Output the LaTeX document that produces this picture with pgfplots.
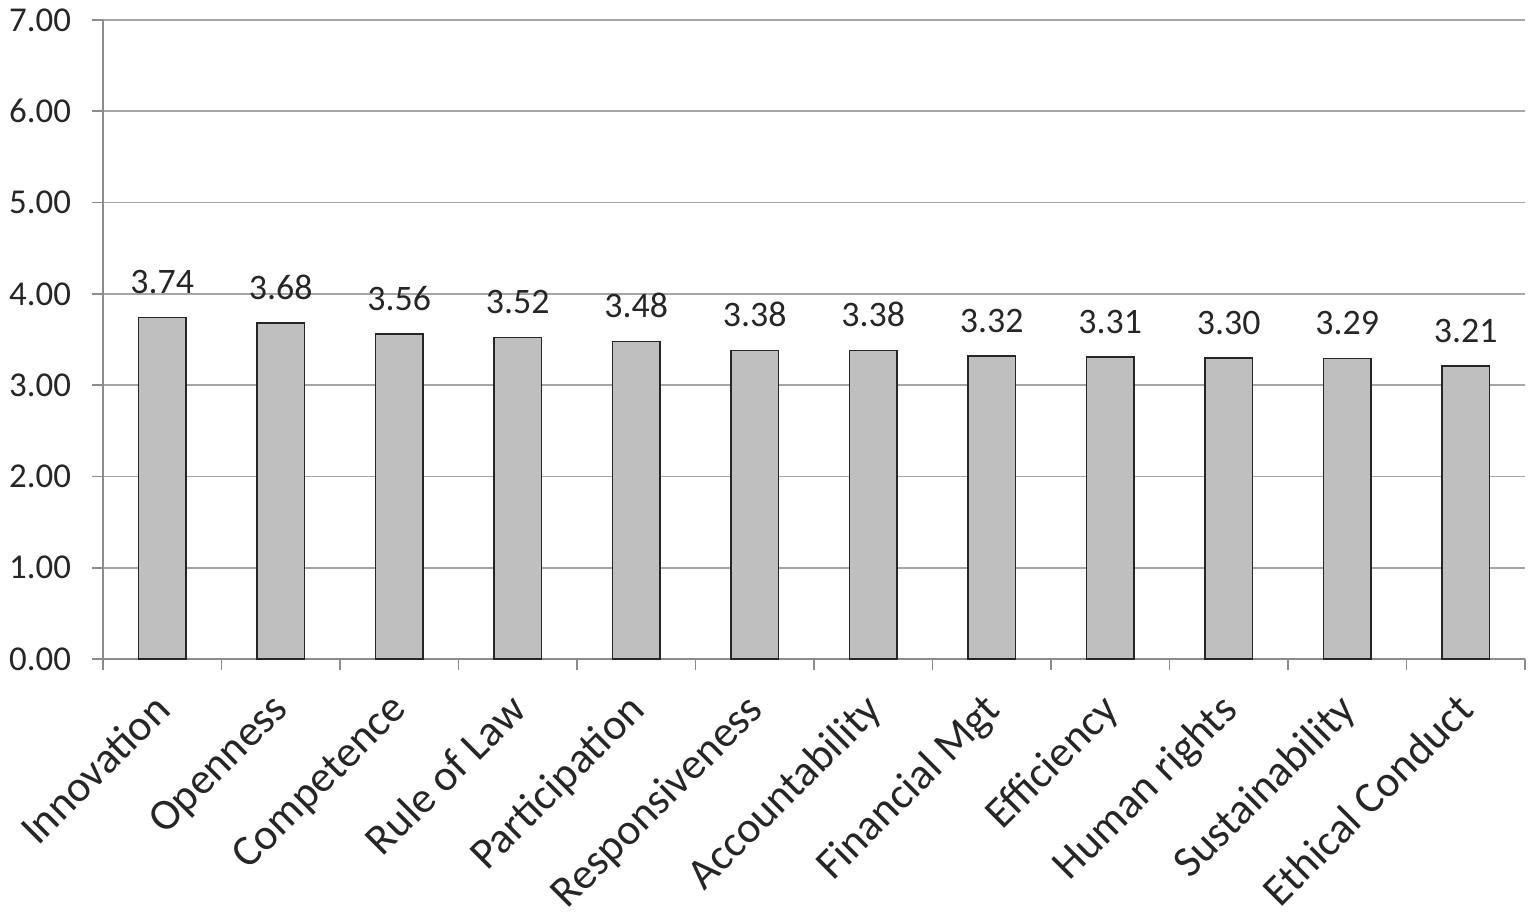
\documentclass[border=0pt]{standalone}
\usepackage{pgfplots}
\pgfplotsset{compat=1.18}
\usepackage{fontspec}
\setmainfont{Carlito}
\definecolor{gridc}{HTML}{A6A6A6}
\definecolor{axisc}{HTML}{8C8C8C}
\definecolor{barc}{HTML}{BFBFBF}
\definecolor{txt}{HTML}{262626}
\begin{document}
\begin{tikzpicture}
\useasboundingbox (0,0) rectangle (767.5bp,460.5bp);
\begin{axis}[
  at={(51.5bp,131bp)}, anchor=south west,
  width=711bp, height=319.5bp, scale only axis,
  xmin=-0.5, xmax=11.5, ymin=0, ymax=7,
  ytick={0,1,...,7},
  yticklabel={\pgfmathprintnumber[fixed,fixed zerofill,precision=2]{\tick}},
  /pgf/number format/assume math mode=true,
  ymajorgrids, grid style={gridc, line width=0.8pt},
  axis line style={axisc, line width=0.9pt},
  axis x line*=bottom, axis y line*=left,
  tick align=outside,
  major tick length=5.5bp,
  tick style={axisc, line width=0.9pt},
  xtick={-0.5,0.5,...,11.5}, xticklabels={},
  extra x ticks={0,1,...,11},
  extra x tick labels={Innovation,Openness,Competence,Rule of Law,Participation,Responsiveness,Accountability,Financial Mgt,Efficiency,Human rights,Sustainability,Ethical Conduct},
  extra x tick style={major tick length=0pt, grid=none,
    tick label style={rotate=45, anchor=north east, inner sep=1pt, xshift=-14bp, yshift=-6.2bp}},
  x tick label style={font=\fontsize{22}{24}\selectfont, text=txt},
  y tick label style={font=\fontsize{17.5}{20}\selectfont, text=txt, xshift=-7bp},
  nodes near coords,
  nodes near coords style={font=\fontsize{18}{20}\selectfont, text=txt, yshift=8bp,
    /pgf/number format/fixed, /pgf/number format/fixed zerofill, /pgf/number format/precision=2, /pgf/number format/assume math mode=true},
  clip=false,
]
\addplot[ybar, bar width=0.4, fill=barc, draw=black!85, line width=0.8pt] coordinates {
(0,3.74) (1,3.68) (2,3.56) (3,3.52) (4,3.48) (5,3.38) (6,3.38) (7,3.32) (8,3.31) (9,3.30) (10,3.29) (11,3.21)};
\end{axis}
\end{tikzpicture}
\end{document}
